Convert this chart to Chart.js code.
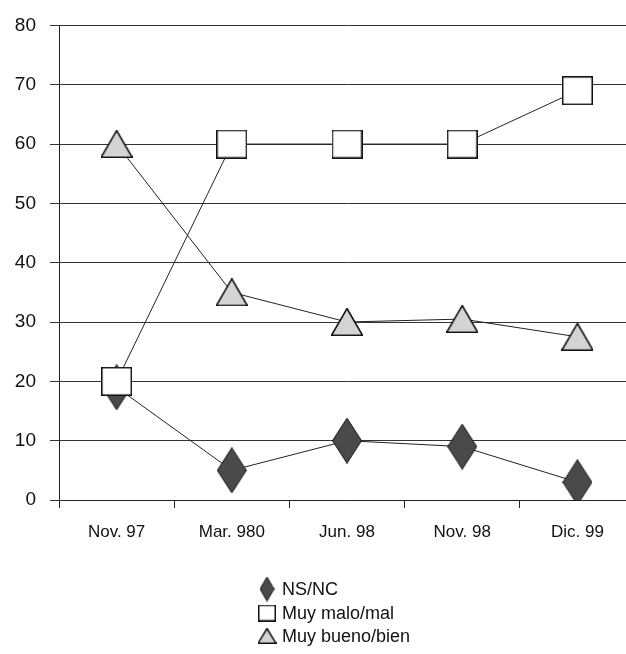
<!DOCTYPE html>
<html>
<head>
<meta charset="utf-8">
<script src="https://cdn.jsdelivr.net/npm/chart.js@4.4.1/dist/chart.umd.min.js"></script>
<style>
  html, body { margin: 0; padding: 0; background: #fff; overflow: hidden; }
  #wrap { width: 640px; height: 654px; }
</style>
</head>
<body>
<div id="wrap"><canvas id="chart" width="640" height="654"></canvas></div>
<script>
const categories = ["Nov. 97", "Mar. 980", "Jun. 98", "Nov. 98", "Dic. 99"];
const nsnc = [19, 5, 10, 9, 3];
const malo = [20, 60, 60, 60, 69];
const bueno = [60, 35, 30, 30.5, 27.5];
const seriesNames = ["NS/NC", "Muy malo/mal", "Muy bueno/bien"];

const FONT = "'Liberation Sans', Arial, Helvetica, sans-serif";

// marker images
function diamond(w, h) {
  const c = document.createElement("canvas");
  c.width = w; c.height = h;
  const g = c.getContext("2d");
  g.beginPath();
  g.moveTo(w / 2, 0.5); g.lineTo(w - 0.5, h / 2); g.lineTo(w / 2, h - 0.5); g.lineTo(0.5, h / 2);
  g.closePath();
  g.fillStyle = "#4a4a4a"; g.fill();
  g.strokeStyle = "#111"; g.lineWidth = 1; g.stroke();
  return c;
}
function square(w, h) {
  const c = document.createElement("canvas");
  c.width = w; c.height = h;
  const g = c.getContext("2d");
  g.fillStyle = "#fff"; g.fillRect(0, 0, w, h);
  g.strokeStyle = "#111"; g.lineWidth = 1.5; g.strokeRect(0.75, 0.75, w - 1.5, h - 1.5);
  return c;
}
function triangle(w, h) {
  const c = document.createElement("canvas");
  c.width = w; c.height = h;
  const g = c.getContext("2d");
  g.beginPath();
  g.moveTo(w / 2, 0.5); g.lineTo(w - 0.5, h - 0.75); g.lineTo(0.5, h - 0.75);
  g.closePath();
  g.fillStyle = "#d4d4d4"; g.fill();
  g.strokeStyle = "#111"; g.lineWidth = 1.5; g.stroke();
  return c;
}

const bigMarks = [diamond(30, 46), square(31, 29), triangle(32, 28)];
const smallMarks = [diamond(15, 25), square(18, 17), triangle(19, 16)];

// vertical legend under the axis
const sideLegend = {
  id: "sideLegend",
  afterDraw(chart) {
    const ctx = chart.ctx;
    const rows = [589, 613, 636];
    ctx.save();
    ctx.font = "18px " + FONT;
    ctx.fillStyle = "#111";
    ctx.textBaseline = "middle";
    chart.data.datasets.forEach((ds, i) => {
      const img = smallMarks[i];
      ctx.drawImage(img, 267 - img.width / 2, rows[i] - img.height / 2);
      ctx.fillText(ds.label, 282, rows[i] + 1);
    });
    ctx.restore();
  }
};

new Chart(document.getElementById("chart"), {
  type: "line",
  data: {
    labels: categories,
    datasets: [
      { label: seriesNames[0], data: nsnc, pointStyle: bigMarks[0], order: 1 },
      { label: seriesNames[1], data: malo, pointStyle: bigMarks[1], order: 0 },
      { label: seriesNames[2], data: bueno, pointStyle: bigMarks[2], order: 2 }
    ].map(d => Object.assign(d, {
      borderColor: "#222", borderWidth: 1, backgroundColor: "#fff", tension: 0
    }))
  },
  options: {
    responsive: false,
    animation: false,
    layout: { padding: { top: 20, right: 3, left: 0, bottom: 0 } },
    plugins: { legend: { display: false }, tooltip: { enabled: false } },
    scales: {
      x: {
        offset: true,
        grid: { offset: true, drawOnChartArea: false, drawTicks: true, tickLength: 8, color: "#222" },
        border: { color: "#222", width: 1 },
        ticks: { color: "#111", padding: 14, font: { family: FONT, size: 17 }, maxRotation: 0 },
        afterFit(s) { s.height = 154; }
      },
      y: {
        min: 0, max: 80,
        ticks: { stepSize: 10, color: "#111", padding: 14, font: { family: FONT, size: 19 } },
        grid: { color: "#333", lineWidth: 1, tickLength: 9 },
        border: { color: "#222", width: 1 },
        afterFit(s) { s.width = 59; }
      }
    }
  },
  plugins: [sideLegend]
});
</script>
</body>
</html>
